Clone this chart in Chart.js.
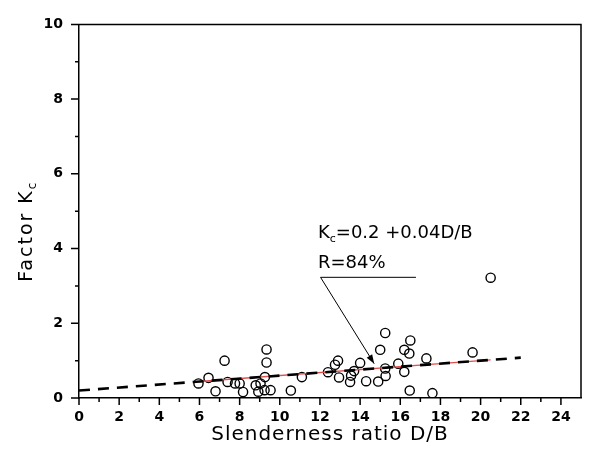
<!DOCTYPE html>
<html>
<head>
<meta charset="utf-8">
<script src="https://cdn.jsdelivr.net/npm/chart.js@4.4.0/dist/chart.umd.min.js"></script>
<style>
  html, body { margin: 0; padding: 0; background: #fff; }
</style>
</head>
<body>
<canvas id="kcChart" width="592" height="461"></canvas>
<script>
// measured points (slenderness ratio D/B, factor Kc)
const ratioX = [5.95, 6.45, 6.8, 7.25, 7.4, 7.77, 8.0, 8.17, 8.8, 8.93, 9.04, 9.24, 9.26, 9.34, 9.34,
  9.54, 10.55, 11.1, 12.4, 12.75, 12.9, 12.95, 13.5, 13.55, 13.7, 14.0, 14.3, 14.9, 15.0, 15.25,
  15.25, 15.27, 15.9, 16.2, 16.5, 16.45, 16.2, 16.47, 17.3, 17.6, 19.6, 20.5];
const factorY = [0.39, 0.54, 0.18, 1.0, 0.43, 0.39, 0.39, 0.16, 0.34, 0.17, 0.39, 0.21, 0.56, 0.95, 1.30,
  0.21, 0.2, 0.56, 0.69, 0.89, 1.0, 0.55, 0.43, 0.6, 0.72, 0.94, 0.45, 0.44, 1.29, 1.74,
  0.79, 0.59, 0.92, 1.29, 1.54, 1.19, 0.7, 0.2, 1.06, 0.13, 1.22, 3.22];

// fitted line Kc = 0.2 + 0.04 D/B, end points
const fitX = [0, 22];
const fitY = [0.2, 1.08];
// thin red line under the dashed one
const redX = [6, 20.5];
const redY = [0.44, 1.02];

const xMin = 0, xMax = 25;
const yMin = 0, yMax = 10;

// annotation anchors (data units)
const noteX = 11.9;
const note1Y = 4.27;
const note2Y = 3.47;
const leaderX = [12.03, 16.78];
const leaderY = 3.23;
const arrowTip = [14.7, 0.92];

function pairs(xs, ys) {
  return xs.map((v, i) => ({ x: v, y: ys[i] }));
}

// tick marks outside the axes, long for labelled values, short between
const tickMarks = {
  id: 'tickMarks',
  afterDraw(chart) {
    const { ctx, chartArea: a, scales: { x, y } } = chart;
    ctx.save();
    ctx.strokeStyle = '#000';
    ctx.lineWidth = 1.5;
    ctx.beginPath();
    x.ticks.forEach(t => {
      if (t.value >= xMax) return;
      const px = x.getPixelForValue(t.value);
      const len = t.value % 2 === 0 ? 7 : 4;
      ctx.moveTo(px, a.bottom);
      ctx.lineTo(px, a.bottom + len);
    });
    y.ticks.forEach(t => {
      const py = y.getPixelForValue(t.value);
      const len = t.value % 2 === 0 ? 8 : 4;
      ctx.moveTo(a.left, py);
      ctx.lineTo(a.left - len, py);
    });
    // top and right edges of the frame
    ctx.moveTo(a.left, a.top);
    ctx.lineTo(a.right, a.top);
    ctx.lineTo(a.right, a.bottom);
    ctx.stroke();
    ctx.restore();
  }
};

// axis titles (y one has a subscript)
const axisTitles = {
  id: 'axisTitles',
  afterDraw(chart) {
    const { ctx, chartArea: a } = chart;
    ctx.save();
    ctx.fillStyle = '#000';
    ctx.textBaseline = 'middle';

    ctx.font = '20px "DejaVu Sans"';
    ctx.letterSpacing = '1px';
    ctx.textAlign = 'center';
    ctx.fillText('Slenderness ratio D/B', (a.left + a.right) / 2, 435);

    ctx.textAlign = 'left';
    ctx.letterSpacing = '2px';
    ctx.translate(27, (a.top + a.bottom) / 2 + 20);
    ctx.rotate(-Math.PI / 2);
    ctx.font = '19px "DejaVu Sans"';
    const w1 = ctx.measureText('Factor K').width;
    ctx.font = '12px "DejaVu Sans"';
    const w2 = ctx.measureText('c').width;
    let tx = -(w1 + w2) / 2;
    ctx.font = '19px "DejaVu Sans"';
    ctx.fillText('Factor K', tx, 0);
    ctx.font = '12px "DejaVu Sans"';
    ctx.fillText('c', tx + w1, 6);
    ctx.restore();
  }
};

// equation text, leader line and arrow
const equationNote = {
  id: 'equationNote',
  afterDraw(chart) {
    const { ctx, scales: { x, y } } = chart;
    const px = v => x.getPixelForValue(v);
    const py = v => y.getPixelForValue(v);
    ctx.save();
    ctx.fillStyle = '#000';
    ctx.textAlign = 'left';
    ctx.textBaseline = 'alphabetic';
    let tx = px(noteX);
    const ty = py(note1Y);
    ctx.font = '18px "DejaVu Sans"';
    ctx.fillText('K', tx, ty);
    tx += ctx.measureText('K').width;
    ctx.font = '11px "DejaVu Sans"';
    ctx.fillText('c', tx, ty + 4);
    tx += ctx.measureText('c').width;
    ctx.font = '18px "DejaVu Sans"';
    ctx.fillText('=0.2 +0.04D/B', tx, ty);
    ctx.fillText('R=84%', px(noteX), py(note2Y));

    const x0 = px(leaderX[0]), y0 = py(leaderY);
    const x1 = px(arrowTip[0]), y1 = py(arrowTip[1]);
    ctx.strokeStyle = '#000';
    ctx.lineWidth = 1;
    ctx.beginPath();
    ctx.moveTo(px(leaderX[1]), y0);
    ctx.lineTo(x0, y0);
    ctx.lineTo(x1, y1);
    ctx.stroke();
    const ang = Math.atan2(y1 - y0, x1 - x0);
    const hl = 9, hw = 3.2;
    ctx.beginPath();
    ctx.moveTo(x1, y1);
    ctx.lineTo(x1 - hl * Math.cos(ang) + hw * Math.sin(ang), y1 - hl * Math.sin(ang) - hw * Math.cos(ang));
    ctx.lineTo(x1 - hl * Math.cos(ang) - hw * Math.sin(ang), y1 - hl * Math.sin(ang) + hw * Math.cos(ang));
    ctx.closePath();
    ctx.fill();
    ctx.restore();
  }
};

const tickFont = { family: '"DejaVu Sans"', size: 14, weight: 'bold' };

const kcCtx = document.getElementById('kcChart').getContext('2d');
const kcChart = new Chart(kcCtx, {
  type: 'scatter',
  data: {
    datasets: [
      {
        label: 'fit',
        type: 'line',
        data: pairs(fitX, fitY),
        borderColor: '#000',
        borderWidth: 2.6,
        borderDash: [11, 8],
        pointRadius: 0,
        fill: false
      },
      {
        label: 'fit red',
        type: 'line',
        data: pairs(redX, redY),
        borderColor: '#e0504f',
        borderWidth: 1.4,
        pointRadius: 0,
        fill: false
      },
      {
        label: 'tests',
        data: pairs(ratioX, factorY),
        pointStyle: 'circle',
        pointRadius: 4.6,
        borderWidth: 1.4,
        borderColor: '#000',
        backgroundColor: 'rgba(0,0,0,0)'
      }
    ]
  },
  options: {
    responsive: false,
    animation: false,
    devicePixelRatio: 1,
    layout: { padding: { top: 17, right: 9, left: 0, bottom: 0 } },
    plugins: {
      legend: { display: false },
      tooltip: { enabled: false }
    },
    scales: {
      x: {
        type: 'linear',
        min: xMin,
        max: xMax,
        afterFit: s => { s.height = 63; },
        grid: { display: true, drawOnChartArea: false, drawTicks: false },
        border: { display: true, color: '#000', width: 1.5 },
        ticks: {
          stepSize: 1,
          autoSkip: false,
          maxRotation: 0,
          padding: 11,
          color: '#000',
          font: tickFont,
          callback: v => (v % 2 === 0 && v < xMax ? v : '')
        }
      },
      y: {
        min: yMin,
        max: yMax,
        afterFit: s => { s.width = 79; },
        grid: { display: true, drawOnChartArea: false, drawTicks: false },
        border: { display: true, color: '#000', width: 1.5 },
        ticks: {
          stepSize: 1,
          autoSkip: false,
          padding: 16,
          color: '#000',
          font: tickFont,
          callback: v => (v % 2 === 0 ? v : '')
        }
      }
    }
  },
  plugins: [tickMarks, axisTitles, equationNote]
});
</script>
</body>
</html>
